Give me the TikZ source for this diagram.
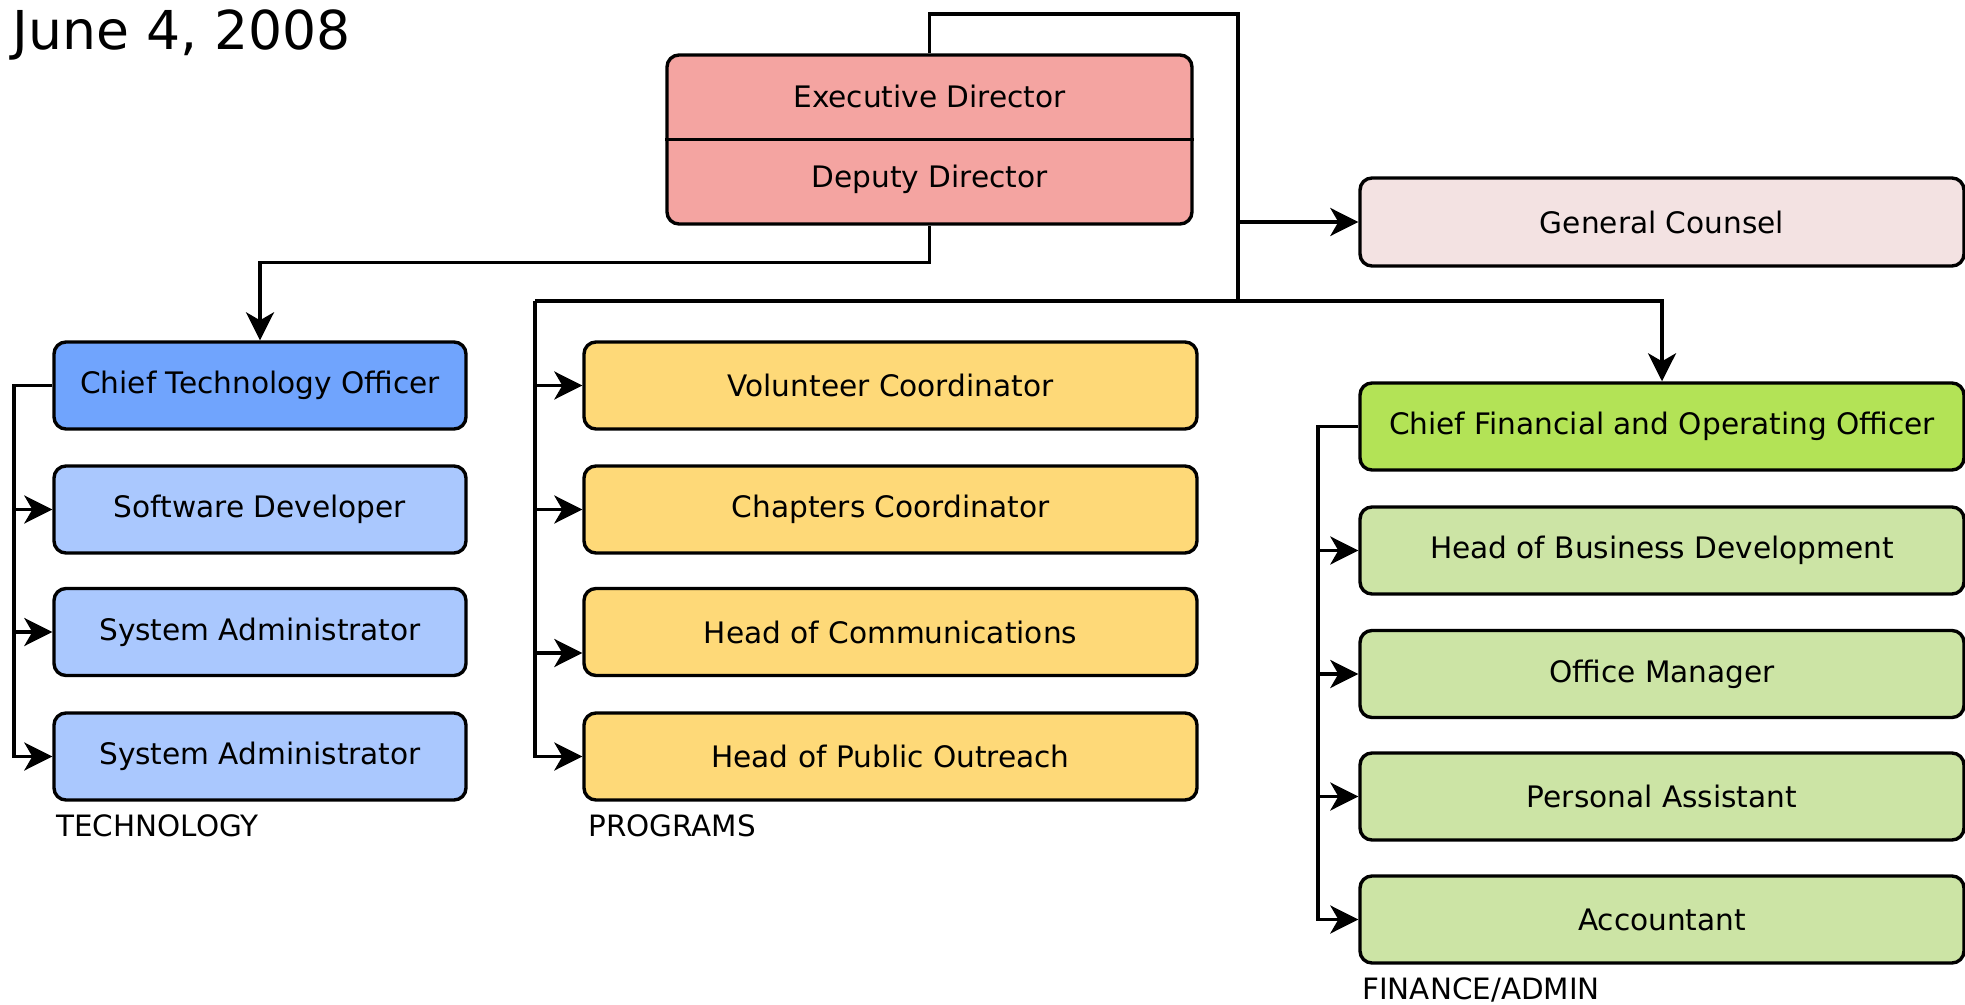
\documentclass[tikz,border=0pt]{standalone}
\usepackage{fontspec}
\setmainfont{DejaVu Sans}
\usetikzlibrary{arrows.meta}
\usetikzlibrary{calc}

\definecolor{execfill}{HTML}{F4A4A1}
\definecolor{counselfill}{HTML}{F3E2E2}
\definecolor{ctofill}{HTML}{70A4FD}
\definecolor{techfill}{HTML}{AAC8FE}
\definecolor{progfill}{HTML}{FED978}
\definecolor{cfofill}{HTML}{B3E356}
\definecolor{finfill}{HTML}{CCE4A5}

\begin{document}
\begin{tikzpicture}[x=0.5pt, y=-0.5pt,
        box_style/.style={rectangle, rounded corners=6pt, draw=black, line width=1.7pt, inner sep=0pt, minimum height=43.5pt, font=\fontsize{14.8}{17}\selectfont},
        exec_style/.style={box_style, fill=execfill, minimum width=262.5pt, minimum height=84.5pt, align=center, font=\fontsize{14.8}{40}\selectfont},
        counsel_style/.style={box_style, fill=counselfill, minimum width=302pt, minimum height=44pt},
        cto_style/.style={box_style, fill=ctofill, minimum width=206pt},
        tech_style/.style={box_style, fill=techfill, minimum width=206pt},
        prog_style/.style={box_style, fill=progfill, minimum width=306.5pt},
        cfo_style/.style={box_style, fill=cfofill, minimum width=302pt},
        fin_style/.style={box_style, fill=finfill, minimum width=302pt},
        edge_style/.style={draw=black, line width=1.8pt, -{Stealth[length=14pt, width=14pt, inset=4pt]}},
        line_style/.style={draw=black, line width=1.8pt},
        label_style/.style={anchor=west, inner sep=0pt, font=\fontsize{14.7}{17}\selectfont}]

        \useasboundingbox (0,0) rectangle (1965,1005);

        \node [anchor=base west, inner sep=0pt, font=\fontsize{26.8}{32}\selectfont] (date) at (12,50) {June 4, 2008};

        \node [exec_style] (exec) at (929.5,139.5) {Executive Director\\Deputy Director};
        \draw [line_style, line width=1.7pt] (exec.west) -- (exec.east);

        \node [counsel_style] (gc) at (1662,222) {General Counsel};

        % technology
        \node [cto_style] (cto) at (260,385.5) {Chief Technology Officer};

        \node [tech_style] (sd) at (260,509.5) {Software Developer};

        \node [tech_style] (sa1) at (260,632) {System Administrator};

        \node [tech_style] (sa2) at (260,756.5) {System Administrator};

        \node [label_style] (techlabel) at (56,826) {TECHNOLOGY};

        % programs
        \node [prog_style] (vol) at (890.5,385.5) {Volunteer Coordinator};

        \node [prog_style] (chap) at (890.5,509.5) {Chapters Coordinator};

        \node [prog_style] (comm) at (890.5,632) {Head of Communications};

        \node [prog_style] (outr) at (890.5,756.5) {Head of Public Outreach};

        \node [label_style] (proglabel) at (588,826) {PROGRAMS};

        % finance
        \node [cfo_style] (cfo) at (1662,426.5) {Chief Financial and Operating Officer};

        \node [fin_style] (hbd) at (1662,550.5) {Head of Business Development};

        \node [fin_style] (om) at (1662,674) {Office Manager};

        \node [fin_style] (pa) at (1662,796.5) {Personal Assistant};

        \node [fin_style] (acc) at (1662,919.5) {Accountant};

        \node [label_style] (finlabel) at (1362,990) {FINANCE/ADMIN};

        % connectors
        \coordinate (loop) at (1238,14);
        \coordinate (bus) at (1238,301);
        \coordinate (progbus) at (535,301);
        \coordinate (techbus) at (14,385.5);
        \coordinate (finbus) at (1318,426.5);
        \coordinate (commin) at ([yshift=-10.5pt]comm.west);

        \draw [line_style] (exec.north) |- (loop) -- (bus);

        \draw [edge_style] (loop |- gc) -- (gc);

        \draw [edge_style] (exec.south) -- ++(0,37) -| (cto.north);

        \draw [edge_style] (progbus) -- (bus) -| (cfo.north);

        \draw [edge_style] (progbus) |- (outr);

        \draw [edge_style] (progbus |- vol) -- (vol);

        \draw [edge_style] (progbus |- chap) -- (chap);

        \draw [edge_style] (progbus |- commin) -- (commin);

        \draw [edge_style] (cto.west) -- (techbus) |- (sa2);

        \draw [edge_style] (techbus |- sd) -- (sd);

        \draw [edge_style] (techbus |- sa1) -- (sa1);

        \draw [edge_style] (cfo.west) -- (finbus) |- (acc);

        \draw [edge_style] (finbus |- hbd) -- (hbd);

        \draw [edge_style] (finbus |- om) -- (om);

        \draw [edge_style] (finbus |- pa) -- (pa);

        \end{tikzpicture}
\end{document}
